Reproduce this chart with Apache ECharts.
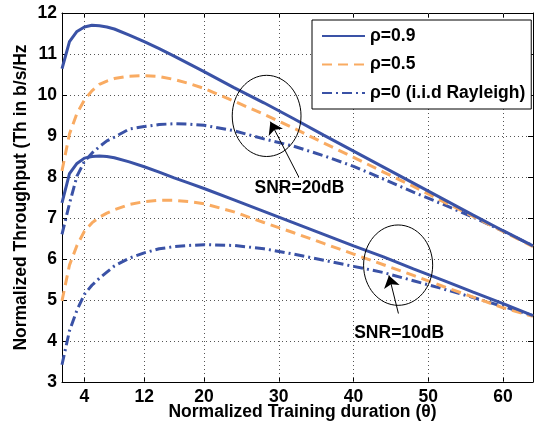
<!DOCTYPE html>
<html><head><meta charset="utf-8">
<script src="https://cdn.jsdelivr.net/npm/echarts@6/dist/echarts.min.js"></script>
<style>html,body{margin:0;padding:0;background:#fff}#c{width:534px;height:429px}</style>
</head><body><div id="c"></div>
<script>
// ---- data ----
const theta = [1,2,3,4,5,6,7,8,10,12,14,16,18,20,24,28,32,36,40,44,48,52,56,60,64];
const snr20_rho09 = [10.64,11.30,11.55,11.66,11.70,11.69,11.66,11.61,11.46,11.30,11.13,10.95,10.76,10.57,10.18,9.81,9.42,9.02,8.63,8.24,7.85,7.46,7.07,6.69,6.32];
const snr20_rho05 = [8.15,9.05,9.55,9.88,10.10,10.26,10.34,10.40,10.46,10.47,10.45,10.38,10.28,10.16,9.85,9.53,9.19,8.83,8.48,8.12,7.77,7.40,7.04,6.67,6.30];
const snr20_rho0  = [6.60,7.35,8.02,8.38,8.58,8.74,8.88,8.97,9.17,9.23,9.28,9.30,9.29,9.26,9.13,8.93,8.75,8.52,8.26,7.95,7.63,7.33,7.02,6.68,6.32];
const snr10_rho09 = [7.37,8.08,8.33,8.46,8.50,8.51,8.50,8.47,8.37,8.25,8.12,7.98,7.85,7.72,7.44,7.16,6.88,6.60,6.32,6.05,5.76,5.48,5.19,4.91,4.62];
const snr10_rho05 = [4.98,5.85,6.33,6.68,6.88,7.02,7.12,7.20,7.33,7.40,7.43,7.43,7.40,7.35,7.15,6.89,6.64,6.38,6.12,5.86,5.60,5.33,5.07,4.81,4.60];
const snr10_rho0  = [3.42,4.25,4.75,5.14,5.36,5.53,5.68,5.83,6.02,6.15,6.25,6.30,6.33,6.35,6.33,6.25,6.12,5.97,5.82,5.67,5.47,5.27,5.06,4.84,4.62];
const xTicks = [4,12,20,30,40,50,60];
const seriesNames = ['ρ=0.9','ρ=0.5','ρ=0 (i.i.d Rayleigh)'];
const xTitle = 'Normalized Training duration (θ)';
const yTitle = 'Normalized Throughput (Th in b/s/Hz';
const annoTexts = ['SNR=20dB','SNR=10dB'];

// ---- annotation placement (data coordinates) ----
const ellipseCenters = [[28.37,9.49],[45.96,5.85]];
const ellipseRadii = [[4.6,0.99],[4.62,0.98]];
const arrowStarts = [[32.67,8.0],[46.0,4.67]];
const arrowEnds = [[28.87,9.35],[44.73,5.60]];
const textPos = [[32.76,7.73],[46.1,4.18]];

const BLUE = '#3A52A6', ORANGE = '#F9AB62';
const FONT = '"Liberation Sans", Arial, sans-serif';
const pairs = arr => theta.map((t,i)=>[t,arr[i]]);

const styles = [
  {color:BLUE, type:'solid'},
  {color:ORANGE, type:[10,6]},
  {color:BLUE, type:[10,4,2,4]}
];
const dataSets = [[snr20_rho09,snr10_rho09],[snr20_rho05,snr10_rho05],[snr20_rho0,snr10_rho0]];
const series = [];
dataSets.forEach((pair, k) => {
  pair.forEach(arr => {
    series.push({
      type:'line', name: seriesNames[k], data: pairs(arr), symbol:'none', showSymbol:false,
      lineStyle:{color:styles[k].color, width:3, type:styles[k].type},
      itemStyle:{color:styles[k].color}, z: 5 - k, silent:true
    });
  });
});
// arrows for annotations
series[0].markLine = {
  silent:true, symbol:['none','arrow'], symbolSize:12, animation:false,
  label:{show:false}, z:10,
  lineStyle:{color:'#000', width:1, type:'solid'},
  emphasis:{disabled:true},
  data: arrowStarts.map((s,i)=>[{coord:s},{coord:arrowEnds[i]}])
};
// vertical dotted grid lines at the custom x ticks
series[5].markLine = {
  silent:true, symbol:['none','none'], animation:false, z:1,
  label:{show:false},
  lineStyle:{color:'#555', width:1, type:[1,3]},
  emphasis:{disabled:true},
  data: xTicks.map(v=>({xAxis:v}))
};

const axisTxt = {fontFamily:FONT, fontWeight:'bold', fontSize:17.5, color:'#000'};
const option = {
  animation:false,
  backgroundColor:'#fff',
  grid:{left:62, top:13, right:1, bottom:47, containLabel:false, outerBoundsMode:'none'},
  legend:{
    orient:'vertical', left:312, top:20, data:seriesNames,
    itemWidth:43, itemHeight:14, itemGap:10.5, padding:[7,6,7,9],
    borderColor:'#000', borderWidth:1, borderRadius:0, backgroundColor:'#fff',
    itemStyle:{opacity:0, color:'transparent', borderWidth:0},
    textStyle:{fontFamily:FONT, fontWeight:'bold', fontSize:17.5, color:'#000'},
    selectedMode:false, z:20
  },
  xAxis:[{
    type:'value', min:1, max:64, position:'bottom',
    axisLine:{show:true, onZero:false, lineStyle:{color:'#000', width:1}},
    axisTick:{show:true, inside:true, length:5, customValues:xTicks, lineStyle:{color:'#000'}},
    axisLabel:Object.assign({customValues:xTicks, margin:6}, axisTxt),
    splitLine:{show:false},
    name:xTitle, nameLocation:'middle', nameGap:21, nameMoveOverlap:false,
    nameTextStyle:Object.assign({padding:[0,0,0,10]}, axisTxt)
  },{
    type:'value', min:1, max:64, position:'top',
    axisLine:{show:true, onZero:false, lineStyle:{color:'#000', width:1}},
    axisTick:{show:true, inside:true, length:5, customValues:xTicks, lineStyle:{color:'#000'}},
    axisLabel:{show:false}, splitLine:{show:false}
  }],
  yAxis:[{
    type:'value', min:3, max:12, interval:1, position:'left',
    axisLine:{show:true, onZero:false, lineStyle:{color:'#000', width:1}},
    axisTick:{show:true, inside:true, length:5, lineStyle:{color:'#000'}},
    axisLabel:Object.assign({margin:5}, axisTxt),
    splitLine:{show:true, lineStyle:{color:'#555', width:1, type:[1,3]}},
    name:yTitle, nameLocation:'middle', nameGap:32, nameRotate:90, nameMoveOverlap:false,
    nameTextStyle:axisTxt
  },{
    type:'value', min:3, max:12, interval:1, position:'right',
    axisLine:{show:true, onZero:false, lineStyle:{color:'#000', width:1}},
    axisTick:{show:true, inside:true, length:5, lineStyle:{color:'#000'}},
    axisLabel:{show:false}, splitLine:{show:false}
  }],
  series: series
};

const chart = echarts.init(document.getElementById('c'), null, {renderer:'canvas'});
chart.setOption(option);

const px = v => chart.convertToPixel({xAxisIndex:0, yAxisIndex:0}, v);
const graphics = [];
ellipseCenters.forEach((c,i)=>{
  const p = px(c);
  const pr = px([c[0]+ellipseRadii[i][0], c[1]+ellipseRadii[i][1]]);
  graphics.push({type:'ellipse', silent:true, z:30,
    shape:{cx:p[0], cy:p[1], rx:Math.abs(pr[0]-p[0]), ry:Math.abs(pr[1]-p[1])},
    style:{fill:'none', stroke:'#000', lineWidth:1}});
});
textPos.forEach((t,i)=>{
  const p = px(t);
  graphics.push({type:'text', silent:true, z:30, x:p[0], y:p[1],
    style:{text:annoTexts[i], fill:'#000', font:'bold 17.5px '+FONT, align:'center', verticalAlign:'middle'}});
});
chart.setOption({graphic:graphics});
</script>
</body></html>
